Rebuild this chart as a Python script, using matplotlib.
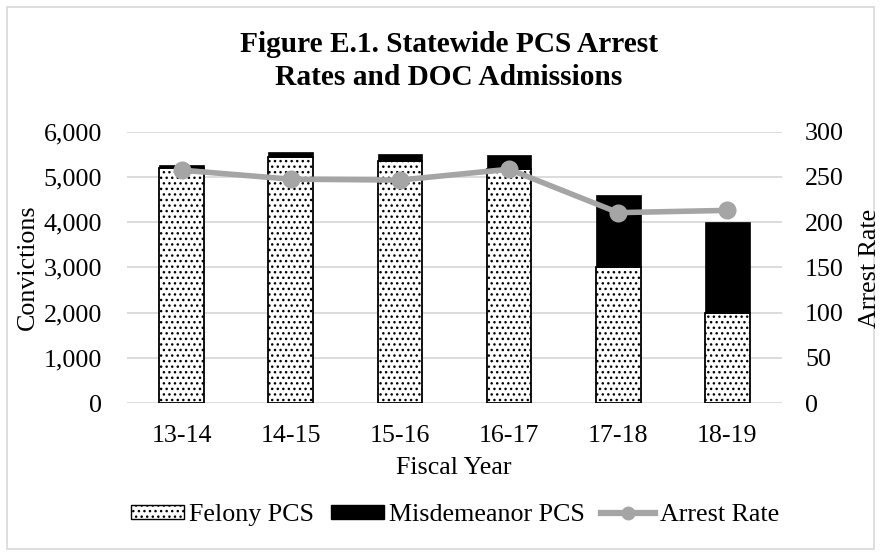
import matplotlib
matplotlib.use("Agg")
import matplotlib.pyplot as plt
from matplotlib.patches import Rectangle, Patch
from matplotlib.lines import Line2D

plt.rcParams["font.family"] = ["Liberation Serif", "DejaVu Serif"]
plt.rcParams["hatch.color"] = "black"
plt.rcParams["hatch.linewidth"] = 1.0

years = ["13-14", "14-15", "15-16", "16-17", "17-18", "18-19"]
felony = [5190, 5430, 5350, 5170, 3000, 1985]
misdemeanor = [80, 110, 160, 310, 1590, 2025]
arrest_rate = [257.5, 247.5, 246.5, 258.5, 210.5, 213]

W, H = 881, 556
FS = 18.7
fig = plt.figure(figsize=(W / 100, H / 100), dpi=100)

# chart border
fig.patches.append(Rectangle((7 / W, 7 / H), 867 / W, 542 / H, transform=fig.transFigure,
                             fill=False, edgecolor="#d9d9d9", linewidth=1.2))

ax = fig.add_axes([127 / W, 1 - 403 / H, 655 / W, 271.3 / H])
x = list(range(len(years)))
bw = 0.41

ax.bar(x, felony, width=bw, color="white", edgecolor="black", linewidth=1.3, hatch="...", zorder=2)
ax.bar(x, misdemeanor, width=bw, bottom=felony, color="black", edgecolor="black", linewidth=0.5, zorder=2)

ax.set_xlim(-0.5, len(years) - 0.5)
ax.set_ylim(0, 6000)
ax.set_yticks(range(0, 6001, 1000))
ax.set_yticklabels([f"{v:,}" for v in range(0, 6001, 1000)])
ax.set_xticks(x)
ax.set_xticklabels(years)
ax.yaxis.grid(True, color="#d9d9d9", linewidth=1.3, zorder=0)
ax.set_axisbelow(True)
for s in ax.spines.values():
    s.set_visible(False)
ax.tick_params(axis="both", length=0, labelsize=FS, colors="#000000")
ax.tick_params(axis="y", pad=18)
ax.tick_params(axis="x", pad=16)

ax2 = ax.twinx()
ax2.plot(x, arrest_rate, color="#a5a5a5", linewidth=4, marker="o", markersize=12, zorder=3)
ax2.set_ylim(0, 300)
ax2.set_yticks(range(0, 301, 50))
for s in ax2.spines.values():
    s.set_visible(False)
ax2.tick_params(axis="y", length=0, labelsize=FS, pad=16.5)

fig.text(28 / W, 1 - 267 / H, "Convictions", rotation=90, ha="center", va="center", fontsize=FS)
fig.text(870 / W, 1 - 268 / H, "Arrest Rate", rotation=90, ha="center", va="center", fontsize=FS)
fig.text(454 / W, 1 - 468 / H, "Fiscal Year", ha="center", va="center", fontsize=FS)
fig.text(449 / W, 1 - 61 / H, "Figure E.1. Statewide PCS Arrest\nRates and DOC Admissions",
         ha="center", va="center", fontsize=21.2, fontweight="bold", linespacing=1.25)

handles = [
    Patch(facecolor="white", edgecolor="black", hatch="...", linewidth=1),
    Patch(facecolor="black", edgecolor="black"),
    Line2D([], [], color="#a5a5a5", linewidth=4.5, marker="o", markersize=9),
]
fig.legend(handles, ["Felony PCS", "Misdemeanor PCS", "Arrest Rate"], ncol=3,
           loc="center", bbox_to_anchor=(455 / W, 1 - 515 / H), frameon=False,
           fontsize=FS, handlelength=2.06, handleheight=0.47, handletextpad=0.2,
           columnspacing=0.62, borderpad=0)

fig.savefig("out.png", dpi=100)
